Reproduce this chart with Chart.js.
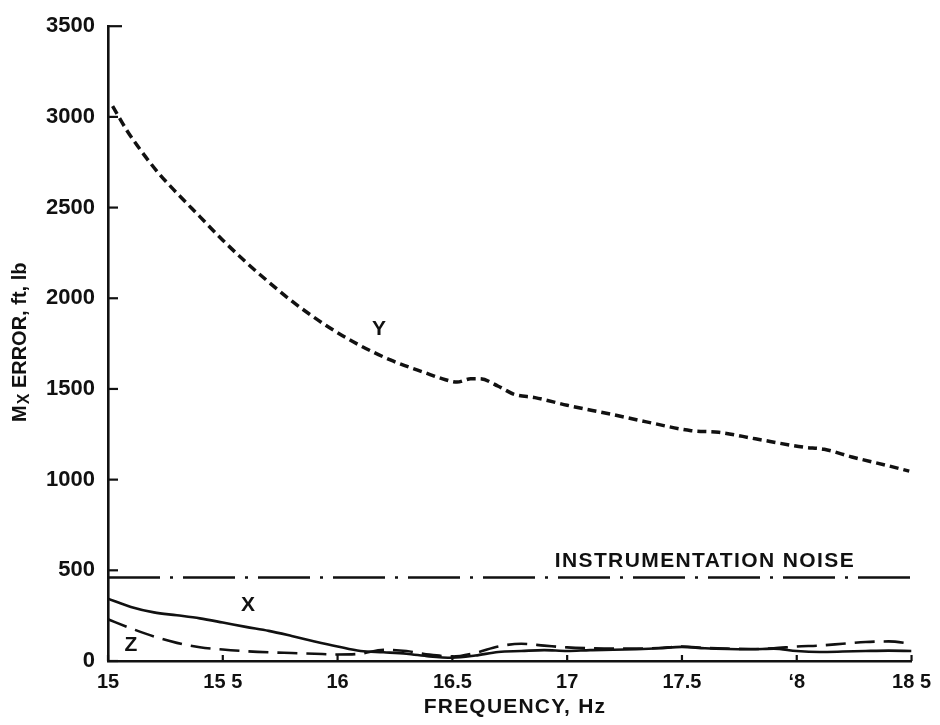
<!DOCTYPE html>
<html>
<head>
<meta charset="utf-8">
<script src="https://cdn.jsdelivr.net/npm/chart.js@4.4.1/dist/chart.umd.min.js"></script>
<style>
  html, body { margin: 0; padding: 0; background: #fff; }
  #wrap { width: 940px; height: 725px; position: relative; }
</style>
</head>
<body>
<div id="wrap"><canvas id="c" width="940" height="725"></canvas></div>
<script>
// ---- data ----
const freqGrid = [15.0,15.1,15.2,15.3,15.4,15.5,15.6,15.7,15.8,15.9,16.0,16.1,16.2,16.3,16.4,16.5,16.6,16.7,16.8,16.9,17.0,17.1,17.2,17.3,17.4,17.5,17.6,17.7,17.8,17.9,18.0,18.1,18.2,18.3,18.4,18.5];
const xError = [344,298,268,252,235,212,188,166,138,108,80,55,48,40,25,18,30,50,55,60,55,60,62,65,70,78,70,66,65,68,55,50,52,55,57,55];
const zError = [230,180,135,100,76,63,54,48,44,40,36,40,62,55,35,25,45,80,95,85,75,70,68,68,72,80,72,68,66,70,80,85,95,105,108,95];
const yFreq = [15.02,15.08,15.14,15.22,15.30,15.40,15.50,15.60,15.69,15.80,15.95,16.09,16.23,16.38,16.47,16.52,16.58,16.62,16.70,16.77,16.86,17.00,17.19,17.34,17.54,17.66,17.82,18.03,18.12,18.24,18.39,18.49];
const yError = [3060,2930,2820,2690,2580,2450,2320,2200,2100,1985,1850,1745,1660,1590,1551,1538,1556,1556,1515,1470,1452,1410,1361,1320,1270,1261,1225,1179,1167,1125,1079,1047];
const noiseFreq = [15.0, 18.5];
const noiseLevel = [460, 460];
const xTickValues = [15,15.5,16,16.5,17,17.5,18,18.5];
const xTickLabels = ['15','15 5','16','16.5','17','17.5','\u02BB8','18 5'];
const yTickValues = [0,500,1000,1500,2000,2500,3000,3500];
const curveLabels = [
  {text:'Y', f:16.18, v:1830},
  {text:'X', f:15.61, v:306},
  {text:'Z', f:15.10, v:87}
];
const noiseLabel = {text:'INSTRUMENTATION NOISE', f:17.6, v:552};
const xTitle = 'FREQUENCY, Hz';

const pts = (xs, ys) => xs.map((x,i)=>({x, y: ys[i]}));
const INK = '#111';
const FONT = '"Liberation Sans", Arial, sans-serif';

const decor = {
  id: 'decor',
  afterDraw(chart) {
    const {ctx, scales:{x, y}} = chart;
    ctx.save();
    ctx.strokeStyle = INK; ctx.lineWidth = 2.2; ctx.lineCap = 'butt';
    // inward y ticks
    yTickValues.forEach(v => {
      const py = y.getPixelForValue(v);
      const len = v === 3500 ? 14 : 10;
      ctx.beginPath(); ctx.moveTo(x.left, py); ctx.lineTo(x.left + len, py); ctx.stroke();
    });
    // inward x ticks
    xTickValues.forEach(v => {
      const px = x.getPixelForValue(v);
      ctx.beginPath(); ctx.moveTo(px, y.bottom); ctx.lineTo(px, y.bottom - 6); ctx.stroke();
    });
    // curve labels
    ctx.fillStyle = INK;
    ctx.textAlign = 'center'; ctx.textBaseline = 'middle';
    ctx.font = 'bold 21px ' + FONT;
    curveLabels.forEach(l => ctx.fillText(l.text, x.getPixelForValue(l.f), y.getPixelForValue(l.v)));
    ctx.letterSpacing = '1.4px';
    ctx.fillText(noiseLabel.text, x.getPixelForValue(noiseLabel.f), y.getPixelForValue(noiseLabel.v));
    // x axis title
    ctx.letterSpacing = '1.2px';
    ctx.fillText(xTitle, 515, 707);
    ctx.letterSpacing = '0px';
    // y axis title with subscript
    ctx.translate(20, 422);
    ctx.rotate(-Math.PI/2);
    ctx.textAlign = 'left'; ctx.textBaseline = 'middle';
    ctx.font = 'bold 20px ' + FONT;
    ctx.fillText('M', 0, 0);
    let w = ctx.measureText('M').width;
    ctx.font = 'bold 16px ' + FONT;
    ctx.fillText('X', w + 1, 5);
    w += ctx.measureText('X').width + 1;
    ctx.font = 'bold 20px ' + FONT;
    ctx.fillText(' ERROR, ft, lb', w, 0);
    ctx.restore();
  }
};

new Chart(document.getElementById('c'), {
  type: 'line',
  data: {
    datasets: [
      { label: 'Y', data: pts(yFreq, yError), borderColor: INK, borderWidth: 3.5, borderDash: [9,5], pointRadius: 0, tension: 0.4, cubicInterpolationMode: 'monotone', fill: false },
      { label: 'X', data: pts(freqGrid, xError), borderColor: INK, borderWidth: 2.6, pointRadius: 0, tension: 0.4, cubicInterpolationMode: 'monotone', fill: false },
      { label: 'Z', data: pts(freqGrid, zError), borderColor: INK, borderWidth: 2.6, borderDash: [20,9], pointRadius: 0, tension: 0.4, cubicInterpolationMode: 'monotone', fill: false },
      { label: 'Noise', data: pts(noiseFreq, noiseLevel), borderColor: INK, borderWidth: 2.6, borderDash: [52,10,3,10], pointRadius: 0, fill: false }
    ]
  },
  options: {
    responsive: false,
    animation: false,
    events: [],
    layout: { padding: { top: 20, right: 23, left: 0, bottom: 0 } },
    plugins: { legend: { display: false }, tooltip: { enabled: false } },
    scales: {
      x: {
        type: 'linear', min: 15, max: 18.5,
        afterFit: s => { s.height = 64; },
        afterBuildTicks: s => { s.ticks = xTickValues.map(v => ({value: v})); },
        grid: { display: true, drawOnChartArea: false, drawTicks: false },
        border: { display: true, color: INK, width: 2.6 },
        ticks: { color: INK, padding: 9, maxRotation: 0, autoSkip: false,
          font: { family: FONT, size: 20, weight: 'bold' },
          callback: (v) => { const i = xTickValues.indexOf(v); return i >= 0 ? xTickLabels[i] : ''; } },
        title: { display: false }
      },
      y: {
        type: 'linear', min: 0, max: 3500,
        afterFit: s => { s.width = 108; },
        afterBuildTicks: s => { s.ticks = yTickValues.map(v => ({value: v})); },
        grid: { display: true, drawOnChartArea: false, drawTicks: false },
        border: { display: true, color: INK, width: 2.6 },
        ticks: { color: INK, padding: 13, font: { family: FONT, size: 22, weight: 'bold' },
          callback: (v) => String(v) },
        title: { display: false }
      }
    }
  },
  plugins: [decor]
});
</script>
</body>
</html>
